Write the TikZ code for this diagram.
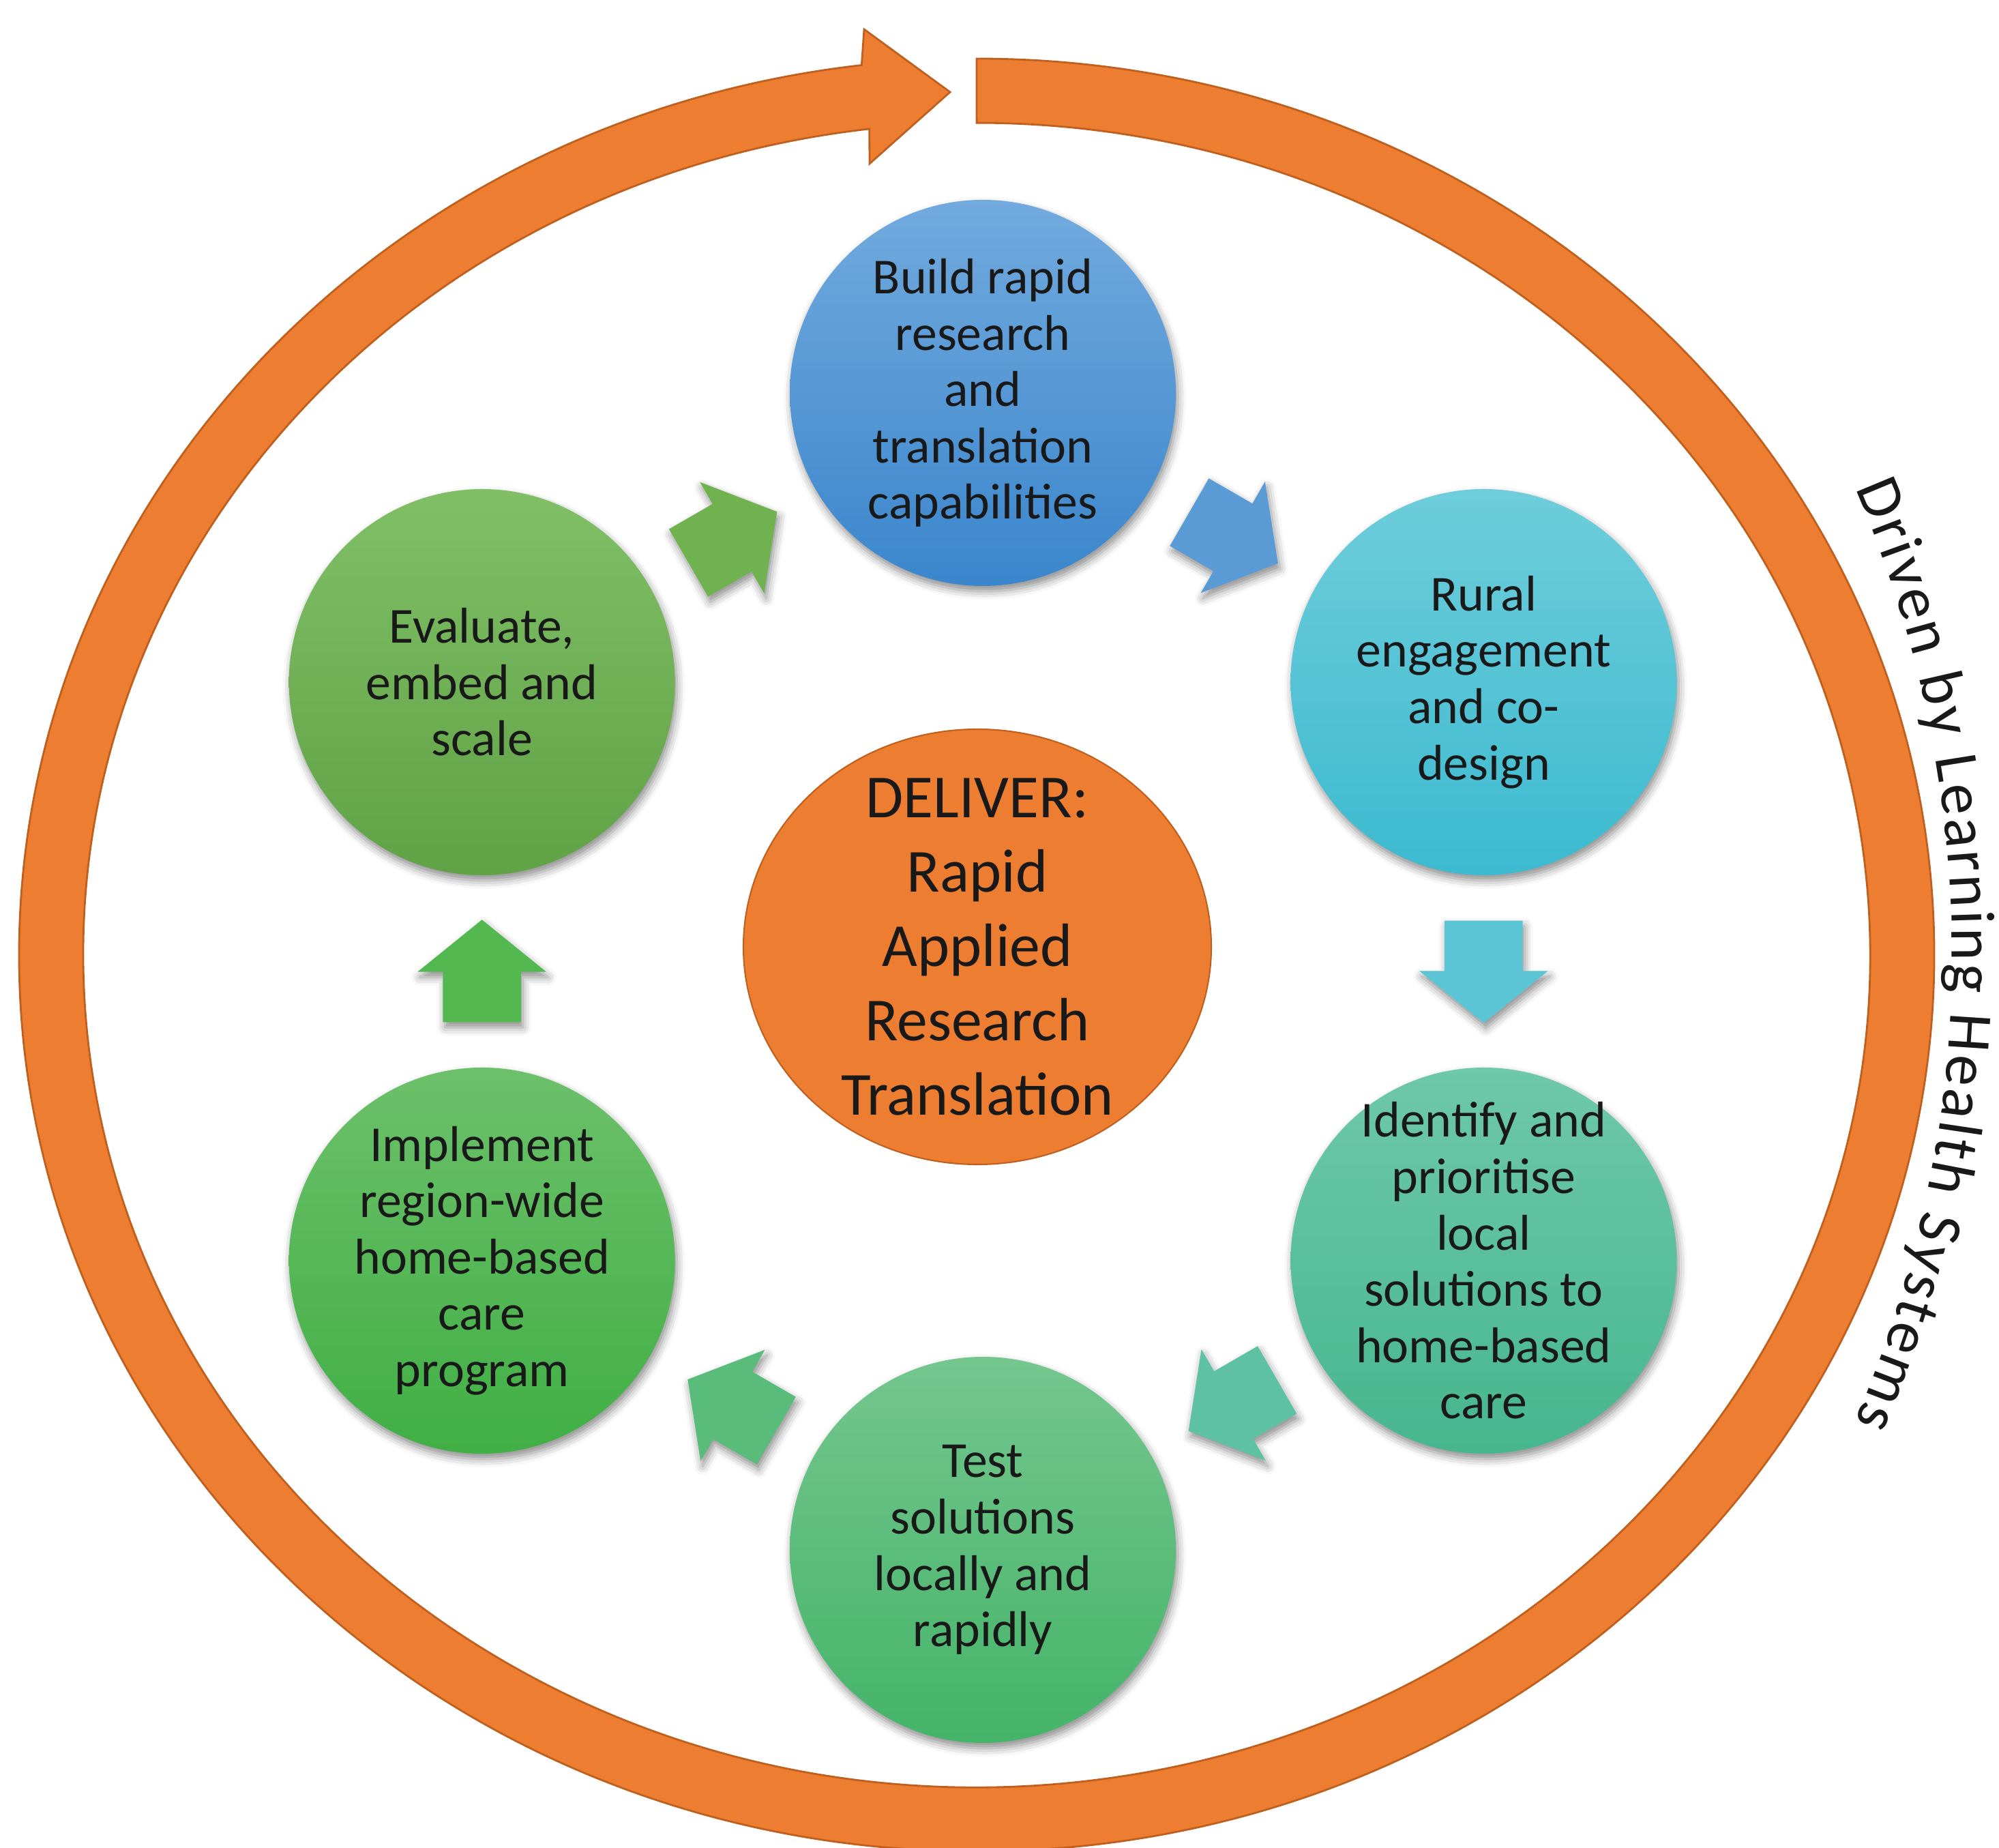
\documentclass[tikz,border=0pt]{standalone}
\usepackage{fontspec}
\setmainfont{Carlito}
\usetikzlibrary{calc, positioning, shapes.geometric, shapes.arrows, decorations.text, shadows.blur}

\definecolor{ringorange}{RGB}{237,125,49}
\definecolor{ringedge}{RGB}{192,96,30}
\definecolor{bluetop}{RGB}{114,170,222}
\definecolor{bluebot}{RGB}{58,134,204}
\definecolor{cyantop}{RGB}{110,205,218}
\definecolor{cyanbot}{RGB}{60,186,208}
\definecolor{tealtop}{RGB}{110,200,170}
\definecolor{tealbot}{RGB}{70,182,143}
\definecolor{testtop}{RGB}{116,198,142}
\definecolor{testbot}{RGB}{68,180,104}
\definecolor{impltop}{RGB}{108,192,106}
\definecolor{implbot}{RGB}{64,175,68}
\definecolor{evaltop}{RGB}{128,191,102}
\definecolor{evalbot}{RGB}{96,162,70}
\definecolor{arrblue}{RGB}{91,155,213}
\definecolor{arrcyan}{RGB}{91,197,214}
\definecolor{arrteal}{RGB}{93,193,162}
\definecolor{arrtest}{RGB}{90,188,122}
\definecolor{arrimpl}{RGB}{84,184,80}
\definecolor{arreval}{RGB}{112,178,80}

\tikzset{
  softshadow/.style={blur shadow={shadow xshift=0.03cm, shadow yshift=-0.08cm,
    shadow blur radius=0.12cm, shadow opacity=45}},
  stage/.style={circle, minimum size=5.66cm, inner sep=0pt, softshadow},
  stagetext/.style={align=center, inner sep=0pt, text=black!90,
    font=\fontsize{21}{23.5}\selectfont},
  flowarrow/.style={single arrow, minimum height=1.5cm, inner xsep=0pt, inner ysep=0.565cm,
    single arrow head extend=0.37cm, single arrow tip angle=102, anchor=tail, softshadow}
}

\begin{document}
\begin{tikzpicture}
\useasboundingbox (0,0) rectangle (29.31,27.08);
\coordinate (hub) at (14.41,12.84);
\coordinate (ringc) at (14.32,13.08);

\fill[ringorange, draw=ringedge, line width=0.8pt]
  ($(ringc)+(0,13.14)$) arc[start angle=90, end angle=-263.1, x radius=14.04, y radius=13.14]
  -- (12.67,26.65) -- (13.93,25.73) -- (12.75,24.68) -- (12.747,25.19)
  arc[start angle=-263.1, end angle=90, x radius=13.10, y radius=12.20] -- cycle;

\path[decorate, decoration={text along path, text align=fit to path,
    text={|\fontsize{26}{30}\selectfont\color{black!90}|Driven by Learning Health Systems}}]
  (27.20,19.92) arc[start angle=23.5, end angle=-23.5, radius=17.14];

\node[stage, top color=bluetop, bottom color=bluebot] (build) at ($(hub)+(90:8.48)$) {};
\node[stage, top color=cyantop, bottom color=cyanbot] (rural) at ($(hub)+(30:8.48)$) {};
\node[stage, top color=tealtop, bottom color=tealbot] (identify) at ($(hub)+(-30:8.48)$) {};
\node[stage, top color=testtop, bottom color=testbot] (test) at ($(hub)+(-90:8.48)$) {};
\node[stage, top color=impltop, bottom color=implbot] (implement) at ($(hub)+(-150:8.48)$) {};
\node[stage, top color=evaltop, bottom color=evalbot] (evaluate) at ($(hub)+(150:8.48)$) {};

\node[stagetext] (build-t) at (build) {Build rapid\\research\\and\\translation\\capabilities};
\node[stagetext] (rural-t) at (rural) {Rural\\engagement\\and co-\\design};
\node[stagetext] (identify-t) at (identify) {Identify and\\prioritise\\local\\solutions to\\home-based\\care};
\node[stagetext] (test-t) at (test) {Test\\solutions\\locally and\\rapidly};
\node[stagetext] (implement-t) at (implement) {Implement\\region-wide\\home-based\\care\\program};
\node[stagetext] (evaluate-t) at (evaluate) {Evaluate,\\embed and\\scale};

\node[flowarrow, fill=arrblue, rotate=-30] (a1) at ($(build)!3.49cm!(rural)$) {};
\node[flowarrow, fill=arrcyan, rotate=-90] (a2) at ($(rural)!3.49cm!(identify)$) {};
\node[flowarrow, fill=arrteal, rotate=-150] (a3) at ($(identify)!3.49cm!(test)$) {};
\node[flowarrow, fill=arrtest, rotate=150] (a4) at ($(test)!3.49cm!(implement)$) {};
\node[flowarrow, fill=arrimpl, rotate=90] (a5) at ($(implement)!3.49cm!(evaluate)$) {};
\node[flowarrow, fill=arreval, rotate=30] (a6) at ($(evaluate)!3.49cm!(build)$) {};

\node[ellipse, fill=ringorange, draw=ringedge, line width=0.6pt, inner sep=0pt,
  minimum width=6.86cm, minimum height=6.38cm] (deliver) at (14.33,13.20) {};
\node[align=center, inner sep=0pt, text=black!90, font=\fontsize{25.5}{31}\selectfont]
  (deliver-t) at (deliver) {DELIVER:\\Rapid\\Applied\\Research\\Translation};
\end{tikzpicture}
\end{document}
